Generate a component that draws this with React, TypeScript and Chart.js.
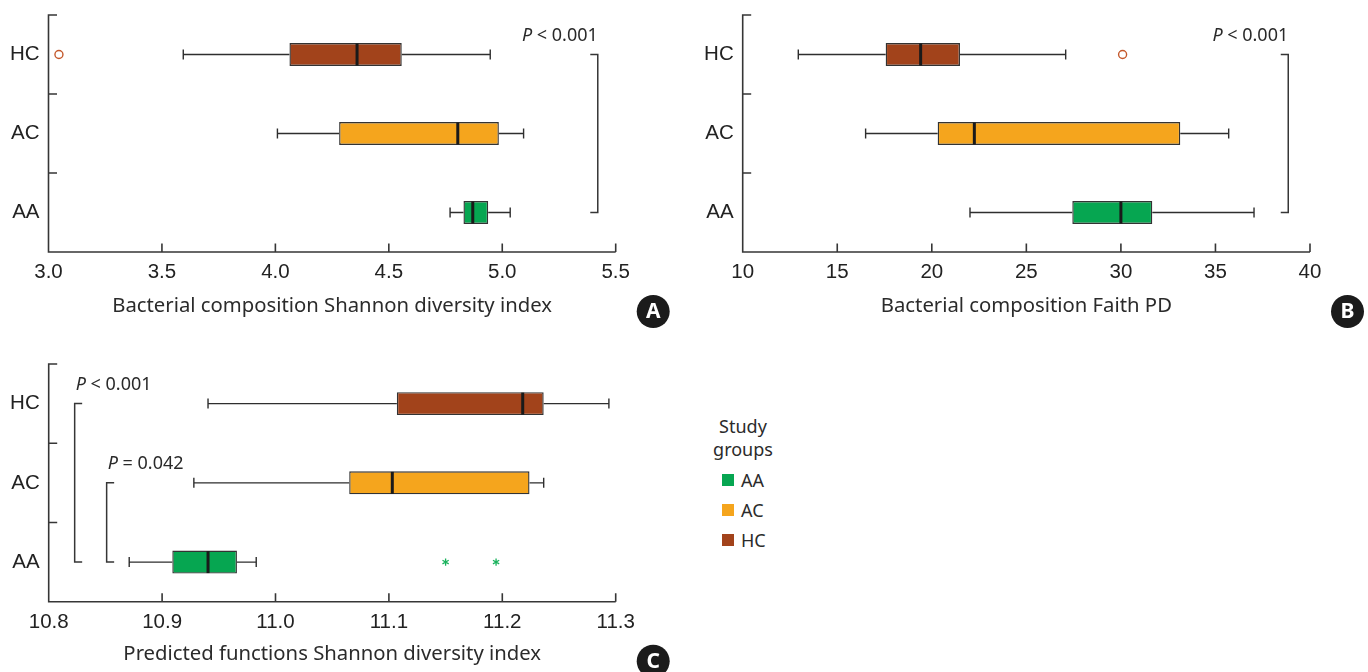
import React, { useEffect, useRef } from 'react';
import { Chart, registerables } from 'chart.js';

Chart.register(...registerables);

// ---------------- data ----------------
const groups = ['HC', 'AC', 'AA'];
const groupColors = ['#A2431B', '#F5A51D', '#06A651'];
const legendOrder = [2, 1, 0];

// Panel A: Bacterial composition Shannon diversity index
const shannonTicks = [3.0, 3.5, 4.0, 4.5, 5.0, 5.5];
const shannonLow = [3.594, 4.009, 4.770];
const shannonQ1 = [4.062, 4.281, 4.829];
const shannonMedian = [4.360, 4.804, 4.870];
const shannonQ3 = [4.557, 4.985, 4.938];
const shannonHigh = [4.947, 5.094, 5.035];
const shannonOutliers = [{ group: 0, value: 3.046, kind: 'circle' }];
const shannonBrackets = [{ x: 5.421, from: 0, to: 2, op: '<', p: '0.001' }];

// Panel B: Bacterial composition Faith PD
const faithTicks = [10, 15, 20, 25, 30, 35, 40];
const faithLow = [12.94, 16.50, 22.02];
const faithQ1 = [17.56, 20.31, 27.43];
const faithMedian = [19.41, 22.25, 30.00];
const faithQ3 = [21.49, 33.14, 31.66];
const faithHigh = [27.08, 35.70, 37.04];
const faithOutliers = [{ group: 0, value: 30.09, kind: 'circle' }];
const faithBrackets = [{ x: 38.85, from: 0, to: 2, op: '<', p: '0.001' }];

// Panel C: Predicted functions Shannon diversity index
const functionTicks = [10.8, 10.9, 11.0, 11.1, 11.2, 11.3];
const functionLow = [10.9405, 10.928, 10.871];
const functionQ1 = [11.107, 11.065, 10.909];
const functionMedian = [11.218, 11.103, 10.9405];
const functionQ3 = [11.2365, 11.224, 10.966];
const functionHigh = [11.294, 11.2365, 10.983];
const functionOutliers = [
  { group: 2, value: 11.150, kind: 'star' },
  { group: 2, value: 11.1945, kind: 'star' },
];
const functionBrackets = [
  { x: 10.8229, from: 0, to: 2, op: '<', p: '0.001' },
  { x: 10.8511, from: 1, to: 2, op: '=', p: '0.042' },
];

// ---------------- styles ----------------
const TICK_FONT = '"Liberation Sans", Arial, sans-serif';
const TEXT_FONT = '"Noto Sans", "Open Sans", sans-serif';
const AXIS_COLOR = '#363636';

type Panel = {
  letter: string;
  left: number; top: number; width: number; height: number;
  area: { left: number; right: number; top: number; bottom: number };
  ticks: number[]; decimals: number;
  low: number[]; q1: number[]; med: number[]; q3: number[]; high: number[];
  outliers: { group: number; value: number; kind: string }[];
  brackets: { x: number; from: number; to: number; op: string; p: string }[];
  bracketSide: 'left' | 'right';
  title: string; titleOffset: number;
};

const panels: Panel[] = [
  {
    letter: 'A', left: 0, top: 0, width: 684, height: 340,
    area: { left: 48.5, right: 615.7, top: 15, bottom: 252 },
    ticks: shannonTicks, decimals: 1,
    low: shannonLow, q1: shannonQ1, med: shannonMedian, q3: shannonQ3, high: shannonHigh,
    outliers: shannonOutliers, brackets: shannonBrackets, bracketSide: 'right',
    title: 'Bacterial composition Shannon diversity index', titleOffset: 54,
  },
  {
    letter: 'B', left: 684, top: 0, width: 684, height: 340,
    area: { left: 58.7, right: 626, top: 15, bottom: 252 },
    ticks: faithTicks, decimals: 0,
    low: faithLow, q1: faithQ1, med: faithMedian, q3: faithQ3, high: faithHigh,
    outliers: faithOutliers, brackets: faithBrackets, bracketSide: 'right',
    title: 'Bacterial composition Faith PD', titleOffset: 54,
  },
  {
    letter: 'C', left: 0, top: 340, width: 684, height: 332,
    area: { left: 48.7, right: 615.7, top: 24, bottom: 261.7 },
    ticks: functionTicks, decimals: 1,
    low: functionLow, q1: functionQ1, med: functionMedian, q3: functionQ3, high: functionHigh,
    outliers: functionOutliers, brackets: functionBrackets, bracketSide: 'left',
    title: 'Predicted functions Shannon diversity index', titleOffset: 53,
  },
];

function makeDecor(p: Panel) {
  return {
    id: 'decor' + p.letter,
    afterDatasetsDraw(chart: any) {
      const { ctx, chartArea: a } = chart;
      const x = chart.scales.x;
      const y = chart.scales.y;
      const meta = chart.getDatasetMeta(0);
      ctx.save();

      // whiskers and medians
      groups.forEach((_, i) => {
        const yc = y.getPixelForValue(i);
        const h = meta.data[i].height;
        const xl = x.getPixelForValue(p.low[i]);
        const x1 = x.getPixelForValue(p.q1[i]);
        const x3 = x.getPixelForValue(p.q3[i]);
        const xh = x.getPixelForValue(p.high[i]);
        ctx.strokeStyle = '#2e2e2e';
        ctx.lineWidth = 1.4;
        ctx.beginPath();
        ctx.moveTo(xl, yc); ctx.lineTo(x1, yc);
        ctx.moveTo(x3, yc); ctx.lineTo(xh, yc);
        ctx.moveTo(xl, yc - 5); ctx.lineTo(xl, yc + 5);
        ctx.moveTo(xh, yc - 5); ctx.lineTo(xh, yc + 5);
        ctx.stroke();
        const xm = x.getPixelForValue(p.med[i]);
        ctx.strokeStyle = '#1a1a1a';
        ctx.lineWidth = 3;
        ctx.beginPath();
        ctx.moveTo(xm, yc - h / 2 + 0.5); ctx.lineTo(xm, yc + h / 2 - 0.5);
        ctx.stroke();
      });

      // outliers
      p.outliers.forEach((o) => {
        const ox = x.getPixelForValue(o.value);
        const oy = y.getPixelForValue(o.group);
        if (o.kind === 'circle') {
          ctx.strokeStyle = '#C4582B';
          ctx.fillStyle = '#fff';
          ctx.lineWidth = 1.4;
          ctx.beginPath();
          ctx.arc(ox, oy, 4, 0, Math.PI * 2);
          ctx.fill();
          ctx.stroke();
        } else {
          ctx.strokeStyle = '#19B25C';
          ctx.lineWidth = 1.3;
          ctx.beginPath();
          for (let k = 0; k < 3; k++) {
            const ang = Math.PI / 2 + (k * Math.PI) / 3;
            const r = 3.6;
            ctx.moveTo(ox - Math.cos(ang) * r, oy - Math.sin(ang) * r);
            ctx.lineTo(ox + Math.cos(ang) * r, oy + Math.sin(ang) * r);
          }
          ctx.stroke();
        }
      });

      // brackets with p-values
      p.brackets.forEach((b) => {
        const bx = x.getPixelForValue(b.x);
        const y0 = y.getPixelForValue(b.from);
        const y1 = y.getPixelForValue(b.to);
        const dir = p.bracketSide === 'right' ? -1 : 1;
        ctx.strokeStyle = AXIS_COLOR;
        ctx.lineWidth = 1.5;
        ctx.beginPath();
        ctx.moveTo(bx + dir * 7.5, y0);
        ctx.lineTo(bx, y0);
        ctx.lineTo(bx, y1);
        ctx.lineTo(bx + dir * 7.5, y1);
        ctx.stroke();
        const italic = `italic 18px ${TEXT_FONT}`;
        const normal = `18px ${TEXT_FONT}`;
        const rest = ` ${b.op} ${b.p}`;
        ctx.font = italic;
        const wP = ctx.measureText('P').width;
        ctx.font = normal;
        const wR = ctx.measureText(rest).width;
        const start = p.bracketSide === 'right' ? bx - wP - wR : bx + 1;
        const ty = y0 - 19;
        ctx.fillStyle = '#2a2a2a';
        ctx.textBaseline = 'middle';
        ctx.textAlign = 'left';
        ctx.font = italic;
        ctx.fillText('P', start, ty);
        ctx.font = normal;
        ctx.fillText(rest, start + wP, ty);
      });

      // axes with inward ticks
      ctx.strokeStyle = AXIS_COLOR;
      ctx.lineWidth = 1.6;
      ctx.beginPath();
      ctx.moveTo(a.left + 8.5, a.top);
      ctx.lineTo(a.left, a.top);
      ctx.lineTo(a.left, a.bottom);
      ctx.lineTo(a.right, a.bottom);
      for (let i = 0; i < groups.length - 1; i++) {
        const yb = (y.getPixelForValue(i) + y.getPixelForValue(i + 1)) / 2;
        ctx.moveTo(a.left, yb);
        ctx.lineTo(a.left + 8.5, yb);
      }
      p.ticks.forEach((t) => {
        const tx = x.getPixelForValue(t);
        ctx.moveTo(tx, a.bottom);
        ctx.lineTo(tx, a.bottom - 8.5);
      });
      ctx.stroke();

      // axis title
      ctx.fillStyle = '#2b2b2b';
      ctx.font = `20.3px ${TEXT_FONT}`;
      ctx.textAlign = 'center';
      ctx.textBaseline = 'middle';
      ctx.fillText(p.title, (a.left + a.right) / 2, a.bottom + p.titleOffset);

      // panel letter
      const cx = a.right + 37.5;
      const cy = a.bottom + 59.5;
      ctx.fillStyle = '#1b1b1b';
      ctx.beginPath();
      ctx.arc(cx, cy, 16.5, 0, Math.PI * 2);
      ctx.fill();
      ctx.fillStyle = '#fff';
      ctx.font = `bold 21px ${TEXT_FONT}`;
      ctx.fillText(p.letter, cx, cy + 1);

      ctx.restore();
    },
  };
}

function BoxPanel({ p }: { p: Panel }) {
  const ref = useRef<HTMLCanvasElement>(null);
  useEffect(() => {
    const canvas = ref.current!;
    const chart = new Chart(canvas, {
      type: 'bar',
      data: {
        labels: groups,
        datasets: [
          {
            data: groups.map((_, i) => [p.q1[i], p.q3[i]]) as any,
            backgroundColor: groupColors,
            borderColor: '#333',
            borderWidth: 1.4,
            borderSkipped: false,
            barPercentage: 0.29,
            categoryPercentage: 1,
          },
        ],
      },
      options: {
        indexAxis: 'y',
        responsive: false,
        animation: false,
        events: [],
        layout: {
          padding: { left: 0, top: p.area.top, right: p.width - p.area.right, bottom: 0 },
        },
        plugins: { legend: { display: false }, tooltip: { enabled: false } },
        scales: {
          x: {
            type: 'linear',
            min: p.ticks[0],
            max: p.ticks[p.ticks.length - 1],
            beginAtZero: false,
            afterBuildTicks: (s: any) => {
              s.ticks = p.ticks.map((v) => ({ value: v }));
            },
            ticks: {
              callback: (v: any) => Number(v).toFixed(p.decimals),
              font: { family: TICK_FONT, size: 20.5 },
              color: '#222',
              padding: 8,
              maxRotation: 0,
              autoSkip: false,
            },
            grid: { display: false, drawTicks: false },
            border: { display: false },
            afterFit: (s: any) => {
              s.height = p.height - p.area.bottom;
              s.paddingLeft = 0;
              s.paddingRight = 0;
            },
          },
          y: {
            type: 'category',
            offset: true,
            ticks: { font: { family: TICK_FONT, size: 20.5 }, color: '#222', padding: 9 },
            grid: { display: false, drawTicks: false },
            border: { display: false },
            afterFit: (s: any) => {
              s.width = p.area.left;
              s.paddingTop = 0;
              s.paddingBottom = 0;
            },
          },
        },
      } as any,
      plugins: [makeDecor(p)],
    });
    return () => chart.destroy();
  }, [p]);
  return (
    <div style={{ position: 'absolute', left: p.left, top: p.top, width: p.width, height: p.height }}>
      <canvas ref={ref} width={p.width} height={p.height} style={{ width: p.width, height: p.height, display: 'block' }} />
    </div>
  );
}

export default function App() {
  return (
    <div style={{ position: 'absolute', left: 0, top: 0, width: 1368, height: 672, overflow: 'hidden', background: '#fff' }}>
      {panels.map((p) => (
        <BoxPanel key={p.letter} p={p} />
      ))}
      <div
        style={{
          position: 'absolute', left: 699, top: 415, width: 88, textAlign: 'center',
          fontFamily: TEXT_FONT, fontSize: 18, lineHeight: '23px', color: '#2b2b2b',
        }}
      >
        Study
        <br />
        groups
      </div>
      {legendOrder.map((gi, k) => (
        <div
          key={groups[gi]}
          style={{
            position: 'absolute', left: 722, top: 480 + k * 30 - 12, height: 24,
            display: 'flex', alignItems: 'center', fontFamily: TEXT_FONT, fontSize: 18, color: '#2b2b2b',
          }}
        >
          <span style={{ display: 'inline-block', width: 12, height: 12, background: groupColors[gi], marginRight: 7 }} />
          <span>{groups[gi]}</span>
        </div>
      ))}
    </div>
  );
}
